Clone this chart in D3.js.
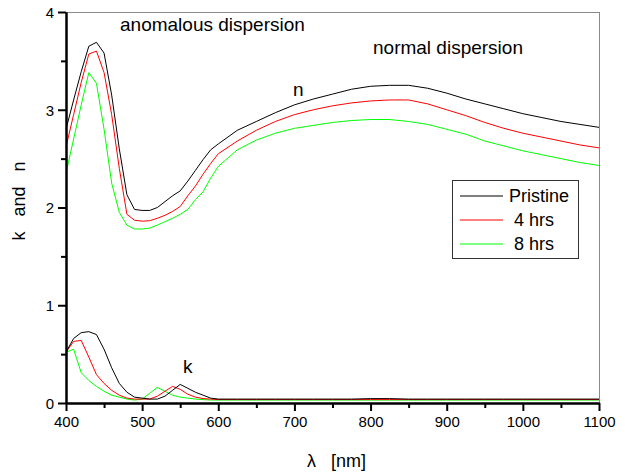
<!DOCTYPE html>
<html><head><meta charset="utf-8">
<script src="https://cdn.jsdelivr.net/npm/d3@7"></script>
<style>
body{margin:0;background:#fff;}
text{font-family:"Liberation Sans",Arial,sans-serif;fill:#000;}
</style></head>
<body><svg id="c" width="625" height="475"></svg>
<script>
// wavelengths (nm)
const wl = [400,410,420,430,440,450,460,470,480,490,500,510,520,530,540,550,560,570,580,590,600,
            625,650,675,700,725,750,775,800,825,850,875,900,925,950,975,1000,1025,1050,1075,1100];
// refractive index n
const nPristine = [2.80,3.10,3.39,3.65,3.69,3.58,3.15,2.60,2.13,1.98,1.97,1.97,2.00,2.06,2.12,2.17,2.27,2.38,2.49,2.59,2.65,
                   2.79,2.88,2.97,3.05,3.11,3.16,3.21,3.24,3.25,3.25,3.22,3.17,3.11,3.06,3.01,2.96,2.92,2.88,2.85,2.82];
const n4hrs = [2.62,2.95,3.28,3.57,3.60,3.38,2.95,2.40,1.93,1.87,1.86,1.865,1.89,1.92,1.96,2.01,2.12,2.22,2.34,2.45,2.55,
               2.68,2.79,2.88,2.95,3.00,3.04,3.07,3.09,3.10,3.10,3.06,3.00,2.94,2.87,2.81,2.76,2.72,2.68,2.64,2.61];
const n8hrs = [2.35,2.70,3.05,3.38,3.27,2.80,2.25,1.95,1.82,1.78,1.78,1.79,1.82,1.855,1.89,1.93,1.98,2.08,2.16,2.30,2.42,
               2.59,2.69,2.76,2.81,2.84,2.87,2.89,2.90,2.90,2.88,2.85,2.80,2.75,2.68,2.63,2.58,2.54,2.50,2.46,2.43];
// extinction coefficient k
const kPristine = [0.52,0.66,0.72,0.73,0.70,0.55,0.36,0.20,0.11,0.06,0.05,0.04,0.04,0.07,0.13,0.19,0.15,0.11,0.08,0.05,0.04,
                   0.04,0.04,0.04,0.04,0.04,0.04,0.04,0.045,0.045,0.04,0.04,0.04,0.04,0.04,0.04,0.04,0.04,0.04,0.04,0.04];
const k4hrs = [0.52,0.63,0.64,0.47,0.29,0.20,0.13,0.08,0.05,0.04,0.04,0.04,0.07,0.12,0.17,0.14,0.09,0.06,0.045,0.04,0.035,
               0.035,0.035,0.035,0.035,0.035,0.035,0.035,0.035,0.035,0.035,0.035,0.035,0.035,0.035,0.035,0.035,0.035,0.035,0.035,0.035];
const k8hrs = [0.52,0.55,0.31,0.23,0.17,0.12,0.08,0.06,0.04,0.03,0.04,0.10,0.16,0.12,0.08,0.06,0.05,0.04,0.035,0.03,0.03,
               0.03,0.03,0.03,0.03,0.03,0.03,0.03,0.03,0.03,0.03,0.03,0.03,0.03,0.03,0.03,0.03,0.03,0.03,0.03,0.03];
const seriesNames = ["Pristine"," 4 hrs"," 8 hrs"];
const seriesColors = ["#000000","#ff0000","#00ff00"];
const xTicks = [400,500,600,700,800,900,1000,1100];
const yTicks = [0,1,2,3,4];

const svg = d3.select("#c");
const L=66,R=599,T=12,B=403;
const x = d3.scaleLinear().domain([400,1100]).range([L,R]);
const y = d3.scaleLinear().domain([0,4]).range([B,T]);

// frame (top/right gray)
svg.append("line").attr("x1",L).attr("x2",R).attr("y1",T+0.5).attr("y2",T+0.5).attr("stroke","#8a8a8a").attr("stroke-width",1);
svg.append("line").attr("x1",R+0.5).attr("x2",R+0.5).attr("y1",T).attr("y2",B).attr("stroke","#8a8a8a").attr("stroke-width",1);

const line = d3.line().x((d,i)=>x(wl[i])).y(d=>y(d));
const nSeries=[nPristine,n4hrs,n8hrs], kSeries=[kPristine,k4hrs,k8hrs];
const g = svg.append("g");
[2,1,0].forEach(i=>{
  g.append("path").attr("d",line(kSeries[i])).attr("fill","none").attr("stroke",seriesColors[i]).attr("stroke-width",1);
  g.append("path").attr("d",line(nSeries[i])).attr("fill","none").attr("stroke",seriesColors[i]).attr("stroke-width",1);
});

// axes
const xAxis = svg.append("g").attr("transform",`translate(0,${B})`)
  .call(d3.axisBottom(x).tickValues(xTicks).tickFormat(d3.format("d")).tickSize(8).tickSizeOuter(0));
const xMinor = svg.append("g").attr("transform",`translate(0,${B})`)
  .call(d3.axisBottom(x).tickValues(d3.range(450,1100,100)).tickFormat("").tickSize(5).tickSizeOuter(0));
const yAxis = svg.append("g").attr("transform",`translate(${L},0)`)
  .call(d3.axisLeft(y).tickValues(yTicks).tickFormat(d3.format("d")).tickSize(8).tickSizeOuter(0));
const yMinor = svg.append("g").attr("transform",`translate(${L},0)`)
  .call(d3.axisLeft(y).tickValues([0.5,1.5,2.5,3.5]).tickFormat("").tickSize(5).tickSizeOuter(0));
[xAxis,xMinor,yAxis,yMinor].forEach(a=>{
  a.select(".domain").attr("stroke","#000").attr("stroke-width",2);
  a.selectAll(".tick line").attr("stroke","#000").attr("stroke-width",2);
  a.selectAll("text").style("font-family","Liberation Sans, Arial, sans-serif").style("font-size","15px").attr("fill","#000");
});
xAxis.selectAll("text").attr("dy","0.9em").attr("y",10);
yAxis.selectAll("text").attr("x",-12).attr("dy","0.36em");

// axis titles
svg.append("text").attr("x",307).attr("y",467).style("font-size","18px")
  .style("white-space","pre").text("λ   [nm]");
svg.append("text").attr("transform","translate(25,201) rotate(-90)").attr("text-anchor","middle").style("font-size","18px")
  .style("white-space","pre").text("k   and   n");

// annotations
svg.append("text").attr("x",120).attr("y",31).style("font-size","19px").text("anomalous dispersion");
svg.append("text").attr("x",373).attr("y",54).style("font-size","19px").text("normal dispersion");
svg.append("text").attr("x",293).attr("y",96).style("font-size","19px").text("n");
svg.append("text").attr("x",183).attr("y",373).style("font-size","19px").text("k");

// legend
const lg = svg.append("g");
lg.append("rect").attr("x",452.5).attr("y",180.5).attr("width",126).attr("height",78).attr("fill","#fff").attr("stroke","#333").attr("stroke-width",1);
seriesNames.forEach((s,i)=>{
  const yy = 196 + i*24;
  lg.append("line").attr("x1",460).attr("x2",503).attr("y1",yy).attr("y2",yy).attr("stroke",seriesColors[i]).attr("stroke-width",1);
  lg.append("text").attr("x",509).attr("y",yy+6).style("font-size","18px").style("white-space","pre").text(s);
});
</script></body></html>
